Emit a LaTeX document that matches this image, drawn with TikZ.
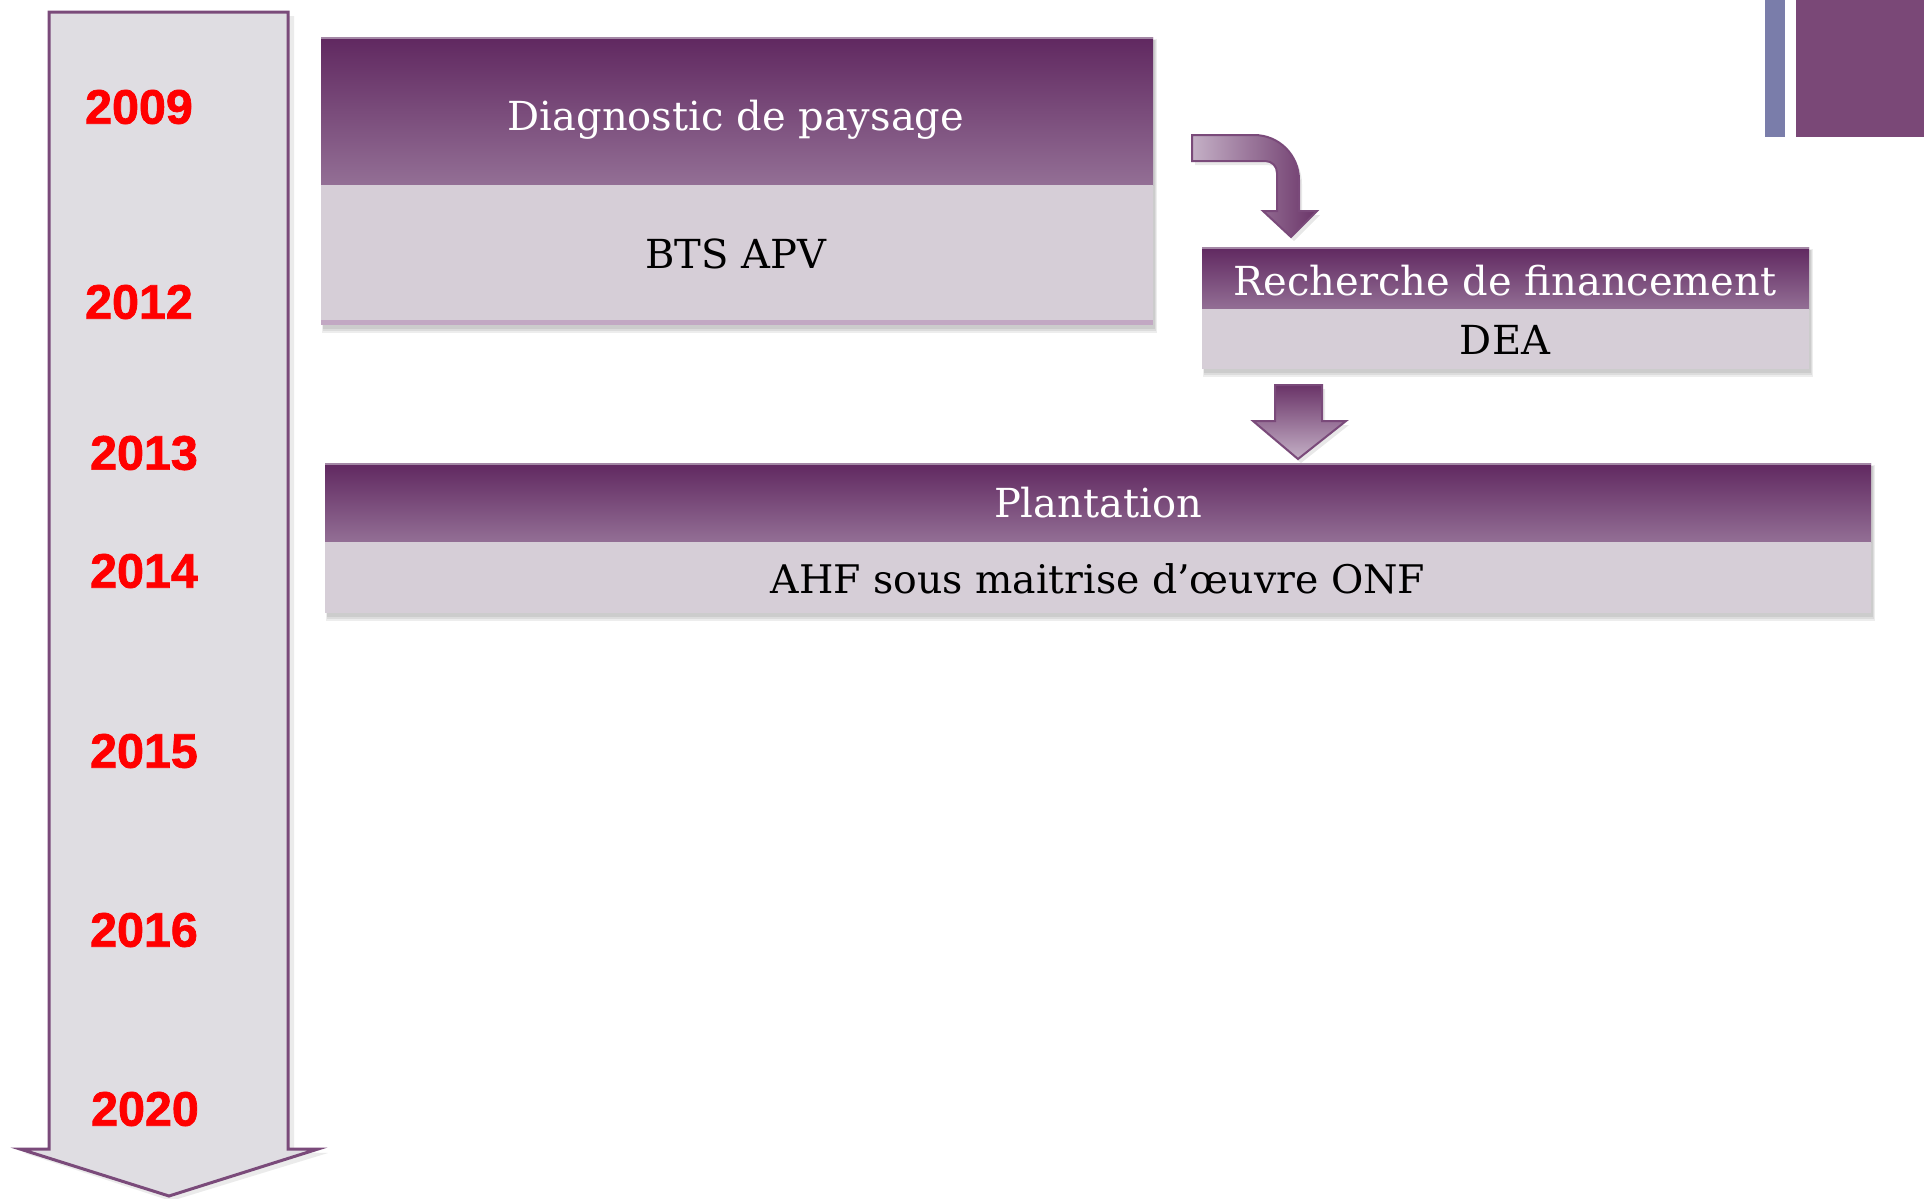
\documentclass[tikz,border=0pt]{standalone}
\usepackage{fontspec}
\setmainfont{DejaVu Serif}
\newfontfamily\yearfont{Liberation Sans}[BoldFeatures={FakeBold=1.5}]
\definecolor{hdtop}{HTML}{602860}
\definecolor{hdbot}{HTML}{936F95}
\definecolor{hdline}{HTML}{A488A6}
\definecolor{bodyc}{HTML}{D6CED7}
\definecolor{bodyline}{HTML}{C2A8C3}
\definecolor{tlfill}{HTML}{DFDDE2}
\definecolor{tlborder}{HTML}{7A4A7A}
\definecolor{yearred}{HTML}{FF0000}
\definecolor{arrdark}{HTML}{6A3468}
\definecolor{arrlight}{HTML}{C4B0C6}
\definecolor{barblue}{HTML}{7A7DAA}
\definecolor{barpurple}{HTML}{7A4877}
\tikzset{
  year/.style={font=\yearfont\bfseries\fontsize{24.2}{27}\selectfont, text=yearred, inner sep=0pt},
  hdrtext/.style={font=\fontsize{20}{24}\selectfont, text=white, inner sep=0pt},
  bodytext/.style={font=\fontsize{20}{24}\selectfont, text=black, inner sep=0pt},
  hdr/.style={top color=hdtop, bottom color=hdbot},
  bodyfill/.style={fill=bodyc},
  shadowfill/.style={fill=black, opacity=0.07},
  blockarrow/.style={draw=tlborder, line width=1pt, line join=miter},
  bentarrow/.pic={
    \path[pic actions]
      (1192,135) -- (1254,135) .. controls (1279,135) and (1299,155) .. (1299,180)
      -- (1299,211) -- (1317,211) -- (1291,237) -- (1263,211) -- (1277,211)
      -- (1277,173) .. controls (1277,166) and (1272,161) .. (1265,161) -- (1192,161) -- cycle;
  },
  downarrow/.pic={
    \path[pic actions]
      (1275,385) -- (1322,385) -- (1322,421) -- (1346,421) -- (1298,459) -- (1253,421) -- (1275,421) -- cycle;
  },
}
\newcommand\boxshadow[4]{%
  \fill[shadowfill] (#1+1,#2+2) rectangle (#3+4,#4+8);
  \fill[shadowfill] (#1+2,#2+3) rectangle (#3+3,#4+6);
  \fill[shadowfill] (#1+2,#2+3) rectangle (#3+2,#4+4);
}
\begin{document}
\begin{tikzpicture}[x=0.5pt,y=-0.5pt]
\useasboundingbox (0,0) rectangle (1924,1199);
\fill[white] (0,0) rectangle (1924,1199);

% corner bars
\fill[barblue] (1765,0) rectangle (1785,137);
\fill[barpurple] (1796,0) rectangle (1924,137);

% timeline arrow
\fill[black, opacity=0.08] (53,16) -- (294,16) -- (294,1152) -- (328,1153) -- (171,1201) -- (24,1153) -- (53,1152) -- cycle;
\draw[fill=tlfill, draw=tlborder, line width=1.5pt, line join=miter]
  (49,12) -- (288,12) -- (288,1149) -- (318,1149) -- (169,1196) -- (20,1149) -- (49,1149) -- cycle;

\node[year] (y2009) at (139,107) {2009};
\node[year] (y2012) at (139,302) {2012};
\node[year] (y2013) at (144,453) {2013};
\node[year] (y2014) at (144,571) {2014};
\node[year] (y2015) at (144,751) {2015};
\node[year] (y2016) at (144,930) {2016};
\node[year] (y2020) at (145,1109) {2020};

% Diagnostic box
\boxshadow{321}{37}{1153}{325}
\shade[hdr] (321,37) rectangle (1153,185);
\draw[hdline, line width=1pt] (321,38) -- (1153,38);
\fill[bodyfill] (321,185) rectangle (1153,325);
\fill[bodyline] (321,320) rectangle (1153,325);
\node[hdrtext] (diag) at (736,120) {Diagnostic de paysage};
\node[bodytext] (bts) at (736,254) {BTS APV};

% Recherche box
\boxshadow{1202}{247}{1809}{369}
\shade[hdr] (1202,247) rectangle (1809,309);
\draw[hdline, line width=1pt] (1202,248) -- (1809,248);
\fill[bodyfill] (1202,309) rectangle (1809,369);
\node[hdrtext] (rech) at (1505,281) {Recherche de financement};
\node[bodytext] (dea) at (1505,340) {DEA};

% Plantation box
\boxshadow{325}{463}{1871}{613}
\shade[hdr] (325,463) rectangle (1871,542);
\draw[hdline, line width=1pt] (325,464) -- (1871,464);
\fill[bodyfill] (325,542) rectangle (1871,613);
\node[hdrtext] (plant) at (1098,503) {Plantation};
\node[bodytext, font=\fontsize{19.7}{24}\selectfont] (ahf) at (1098,579) {AHF sous maitrise d’œuvre ONF};

% bent arrow
\pic[fill=black, opacity=0.09, shift={(3,4)}] {bentarrow};
\pic[blockarrow, left color=arrlight, right color=arrdark] {bentarrow};

% down arrow
\pic[fill=black, opacity=0.09, shift={(3,4)}] {downarrow};
\pic[blockarrow, top color=arrdark, bottom color=arrlight] {downarrow};
\end{tikzpicture}
\end{document}
